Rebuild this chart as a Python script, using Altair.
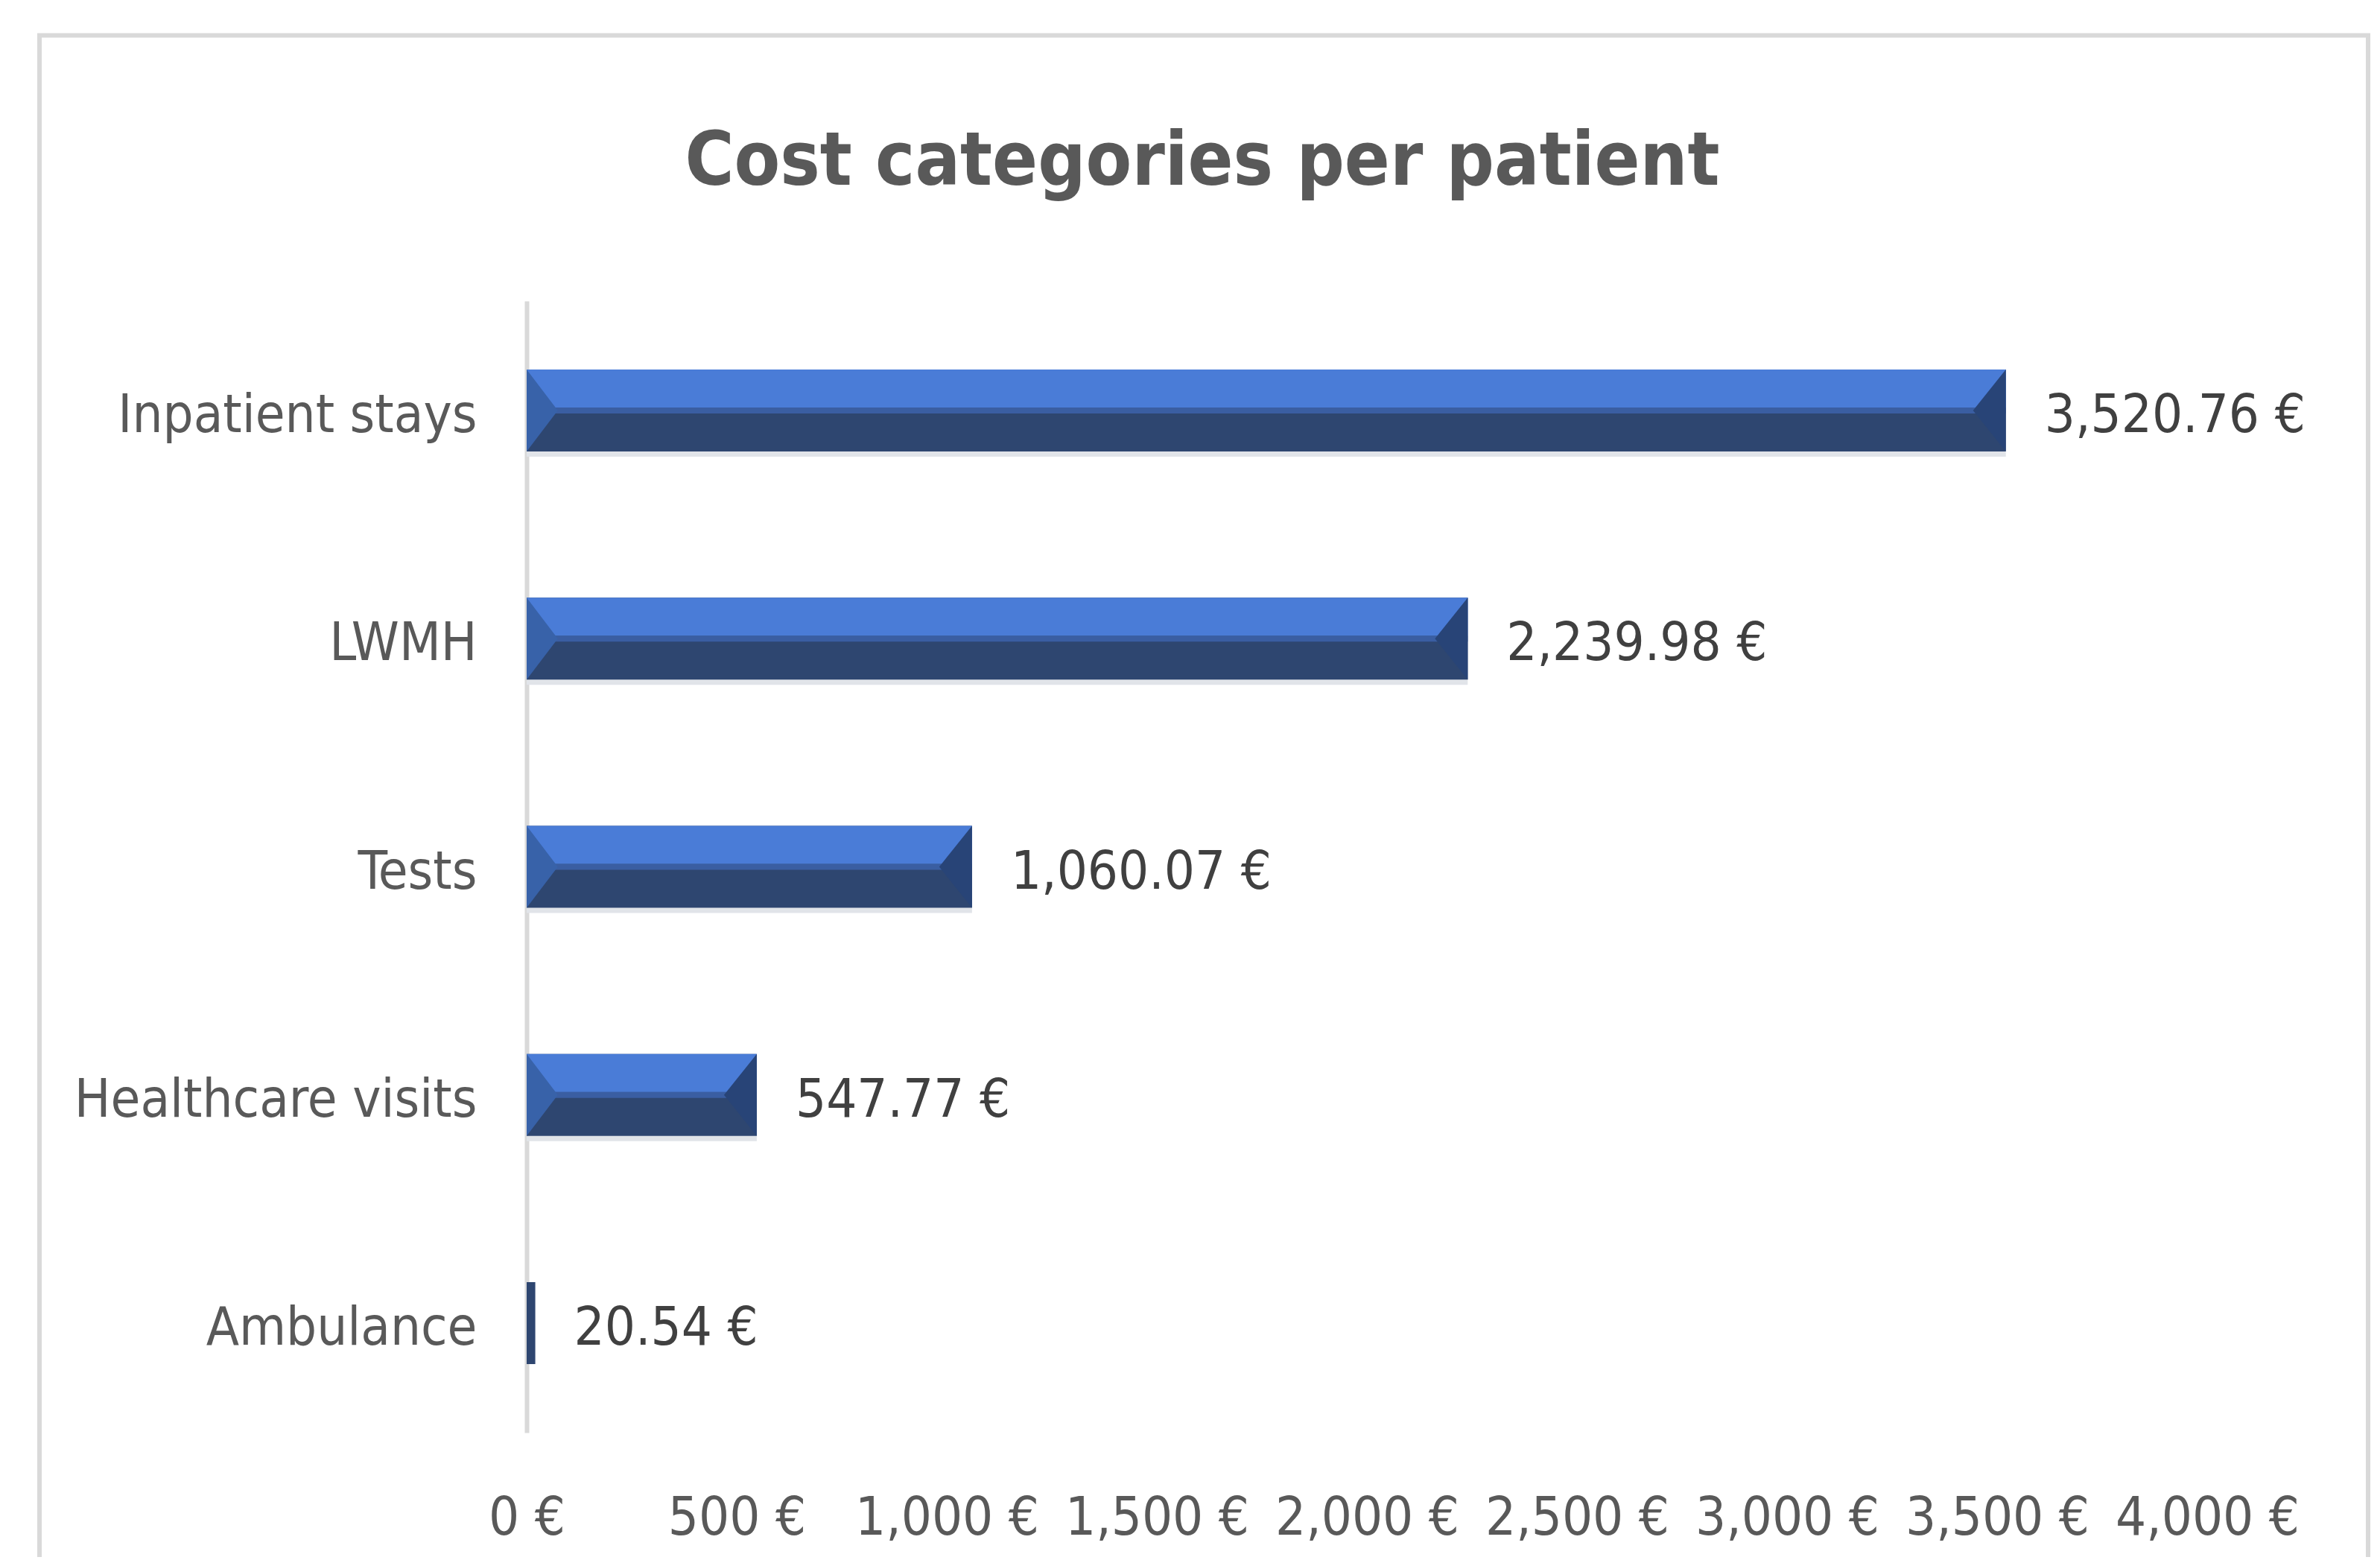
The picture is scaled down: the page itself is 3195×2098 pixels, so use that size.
import altair as alt
import pandas as pd

# ---- data ----
categories = ["Inpatient stays", "LWMH", "Tests", "Healthcare visits", "Ambulance"]
costs = [3520.76, 2239.98, 1060.07, 547.77, 20.54]
tick_values = [0, 500, 1000, 1500, 2000, 2500, 3000, 3500, 4000]
title_text = "Cost categories per patient"

df = pd.DataFrame({"category": categories, "cost": costs})

FONT = "'Liberation Sans Narrow', 'DejaVu Sans Condensed', 'Arial Narrow', sans-serif"
FS = 72
W, H = 2256, 1519

x_scale = alt.Scale(domain=[0, 4000], nice=False, zero=True)
y_scale = alt.Scale(domain=categories, paddingInner=0.64, paddingOuter=0.3)

x_axis = alt.Axis(
    values=tick_values,
    labelExpr="format(datum.value, ',') + ' €'",
    domain=False, ticks=False, tickSize=0, grid=False,
    labelPadding=79, labelFont=FONT, labelFontSize=FS, labelColor="#595959",
    labelBaseline="top", title=None, labelFlush=False, labelOverlap=False,
    labelLimit=1000,
)
y_axis = alt.Axis(
    domain=True, domainColor="#D9D9D9", domainWidth=6,
    ticks=False, tickSize=0, grid=False,
    labelPadding=67, labelFont=FONT, labelFontSize=FS, labelColor="#595959",
    labelAlign="right", labelBaseline="middle", labelOffset=7,
    title=None, labelLimit=1000,
)


def xenc(field):
    return alt.X(f"{field}:Q", scale=x_scale, axis=x_axis)


y_enc = alt.Y("category:N", scale=y_scale, sort=categories, axis=y_axis)

base = alt.Chart(df).transform_calculate(
    start="0",
    label="format(datum.cost, ',.2f') + ' €'",
).encode(y=y_enc)

big = base.transform_filter("datum.cost > 100")

frame = alt.Chart(pd.DataFrame({"f": [0]})).mark_rect(
    fill="transparent", stroke="#D9D9D9", strokeWidth=6
).encode(
    x=alt.value(-654), x2=alt.value(2472), y=alt.value(-356.5), y2=alt.value(1800)
)

shadow = big.mark_bar(height=7, yOffset=58.5, color="#E1E4E9").encode(x=xenc("cost"))
dark = base.mark_bar(height=110, color="#2E4670").encode(x=xenc("cost"))
stripe = big.mark_bar(height=8, yOffset=0, color="#3A5EA2").encode(x=xenc("cost"))
light = big.mark_bar(height=51, yOffset=-29.5, color="#4A7CD7").encode(x=xenc("cost"))

left_bevel = big.mark_point(
    shape="M0,-1L0.76,0L0,1Z", size=12100, filled=True, color="#3862A9",
    opacity=1, strokeWidth=0,
).encode(x=xenc("start"))
right_bevel = big.mark_point(
    shape="M0,-1L-0.80,0L0,1Z", size=12100, filled=True, color="#284477",
    opacity=1, strokeWidth=0,
).encode(x=xenc("cost"))

values = base.mark_text(
    align="left", baseline="middle", dx=52, dy=7,
    font=FONT, fontSize=FS, color="#404040",
).encode(x=xenc("cost"), text="label:N")

chart = alt.layer(
    frame, shadow, dark, stripe, light, left_bevel, right_bevel, values
).properties(
    width=W,
    height=H,
    title=alt.TitleParams(
        title_text, font=FONT, fontSize=100, fontWeight="bold", color="#595959",
        anchor="middle", frame="group", offset=0, dx=-221, dy=303.5,
        baseline="alphabetic",
    ),
    autosize=alt.AutoSizeParams(type="none"),
    padding={"left": 699, "top": 396, "right": 220, "bottom": 167},
    background="white",
).configure_view(strokeWidth=0)

chart.save("out.html", embed_options={"renderer": "svg", "actions": False})
